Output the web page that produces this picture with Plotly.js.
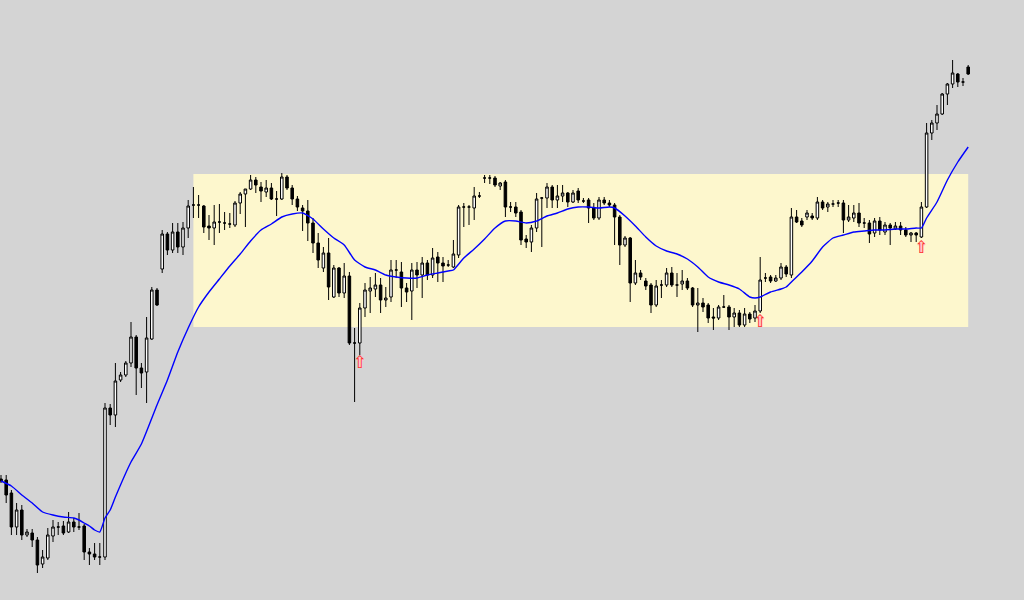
<!DOCTYPE html>
<html>
<head>
<meta charset="utf-8">
<script src="https://cdn.plot.ly/plotly-3.0.1.min.js"></script>
<style>html,body{margin:0;padding:0;background:#d4d4d4;}#chart{width:1024px;height:600px;}</style>
</head>
<body>
<div id="chart"></div>
<script>
// OHLC values (one candle per period)
const open = [121,120,107,73,90,65,67,60,36,42,64,73,74,68,78,73,74,48,46,43,
43,192,185,220,225,237,263,232,228,261,310,331,366,350,368,353,372,395,395,394,
374,372,378,377,376,375,397,406,411,420,413,408,412,401,401,423,412,401,392,389,
377,357,332,347,303,332,307,324,257,257,292,309,311,315,300,303,330,328,312,309,
330,325,337,325,343,337,335,333,345,393,393,392,404,422,422,422,414,418,393,393,
388,361,358,372,402,402,413,400,404,407,398,409,399,400,392,382,400,397,395,383,
355,362,317,327,319,315,295,315,315,327,315,316,319,312,295,297,295,283,282,293,
293,283,287,275,286,282,289,322,323,319,322,333,325,383,379,383,384,382,398,393,
396,397,397,380,382,387,377,377,367,379,368,375,371,374,370,365,367,363,393,467,
477,486,506,516,526,518,533];
const high = [125,125,110,97,95,71,71,63,50,72,80,78,79,88,82,87,76,52,57,57,
197,196,237,228,239,278,265,237,283,313,312,370,368,377,377,378,400,413,405,395,
385,395,396,388,387,399,408,411,425,423,418,420,417,409,427,425,415,404,395,400,
382,367,353,362,335,333,337,328,272,297,317,323,327,322,313,340,340,338,317,337,
338,343,340,352,348,343,340,360,395,397,395,413,408,425,425,424,418,420,398,398,
390,365,375,407,403,417,415,415,415,408,410,412,402,402,397,403,403,400,397,385,
364,363,340,330,322,317,320,320,332,333,327,330,322,313,312,302,297,292,295,305,
295,292,290,292,288,295,343,327,325,325,337,335,392,390,382,390,387,403,400,398,
400,400,400,395,395,397,382,380,382,383,378,377,378,378,373,368,368,398,477,480,
495,507,517,540,527,522,535];
const low = [117,97,65,65,60,63,53,27,32,40,58,65,65,67,68,70,40,35,40,35,
40,175,173,218,223,233,205,212,197,260,294,327,345,347,347,345,362,382,382,367,
360,355,367,370,372,373,386,373,410,407,398,403,400,384,400,410,395,389,369,359,
347,332,328,300,302,303,302,255,198,245,283,287,303,287,293,298,322,293,298,280,
312,302,320,322,318,318,333,332,342,373,375,380,402,417,416,413,410,383,388,383,
355,352,348,368,353,392,392,392,398,393,397,397,397,377,380,380,395,393,355,335,
353,298,315,320,310,287,293,302,313,313,303,310,310,293,268,288,277,270,280,292,
270,273,273,273,277,278,287,318,317,318,320,323,322,377,373,380,380,380,390,388,
393,393,367,378,378,373,372,357,363,365,365,355,370,365,363,358,358,362,392,460,
470,485,495,512,513,514,525];
const close = [119,105,73,90,65,68,60,35,43,65,73,73,67,78,73,73,48,46,43,43,
192,185,219,225,237,263,232,227,262,310,295,366,350,368,353,372,394,395,395,373,
372,378,378,377,376,397,406,411,420,415,409,412,401,401,423,412,401,393,389,377,
357,340,347,313,332,307,324,257,257,292,310,312,315,300,302,330,330,312,308,330,
325,337,325,342,337,334,335,346,393,393,393,404,404,422,422,415,417,393,393,387,
360,358,372,401,402,413,400,404,407,398,407,400,399,392,382,400,397,395,383,355,
362,317,327,323,314,295,314,315,327,315,315,319,312,295,297,293,282,282,293,293,
283,287,275,286,281,289,320,322,319,322,333,326,383,378,375,387,382,398,392,396,
396,397,380,383,387,377,377,366,379,370,375,372,374,370,365,367,365,393,467,477,
486,506,516,527,518,518,526];

// Moving average (blue line) read at sampled candles
const maIndex = [0,2,4,6,8,10,12,14,15,16,17,18,19,20,21,22,25,27,30,32,34,36,38,40,42,44,46,48,50,52,54,56,58,60,62,64,66,68,70,72,74,76,78,80,82,84,86,87,89,91,93,95,97,99,101,103,105,107,109,111,113,115,117,118,120,122,124,126,128,130,132,134,136,138,140,142,144,145,146,148,150,151,152,154,156,158,160,162,164,166,168,170,172,174,176,177,178,180,182,184,186];
const maValue = [119,114,105,97,88,85,83,82,80,77,74,70,68,82,90,103,138,156,195,220,248,272,293,308,321,334,346,359,370,376,383,386,387,381,371,362,355,340,333,330,325,323,322,322,325,327,329,330,342,351,361,372,379,379,377,379,384,387,391,393,393,392,393,392,384,374,363,354,349,346,341,333,323,318,315,311,303,302,303,308,311,313,318,328,339,353,362,365,368,369,370,370,371,371,372,372,382,398,420,438,453];

// Signal arrows (candle index, level)
const arrowIndex = [69,146,177];
const arrowLevel = [236,277,351];

// Highlighted range box
const zoneStart = 37, zoneEnd = 186, zoneLow = 273, zoneHigh = 426;

const idx = open.map((_, i) => i);

const traces = [
  {
    type: 'candlestick', x: idx, open: open, high: high, low: low, close: close,
    increasing: {line: {color: '#000000', width: 1}, fillcolor: '#ffffff'},
    decreasing: {line: {color: '#000000', width: 1}, fillcolor: '#000000'},
    whiskerwidth: 0, showlegend: false, hoverinfo: 'skip'
  },
  {
    type: 'scatter', mode: 'lines', x: maIndex, y: maValue,
    line: {color: '#0000ff', width: 1.4, shape: 'spline', smoothing: 0.5},
    showlegend: false, hoverinfo: 'skip'
  },
  {
    type: 'scatter', mode: 'text', x: arrowIndex, y: arrowLevel,
    text: arrowIndex.map(() => '⬆'), textposition: 'middle center',
    textfont: {family: 'DejaVu Sans', size: 15, color: '#ffc8c8'},
    showlegend: false, hoverinfo: 'skip'
  },
  {
    type: 'scatter', mode: 'text', x: arrowIndex, y: arrowLevel,
    text: arrowIndex.map(() => '⇧'), textposition: 'middle center',
    textfont: {family: 'DejaVu Sans', size: 17, color: '#ff3030'},
    showlegend: false, hoverinfo: 'skip'
  }
];

const layout = {
  width: 1024, height: 600,
  margin: {l: 0, r: 0, t: 0, b: 0, pad: 0},
  paper_bgcolor: '#d4d4d4', plot_bgcolor: '#d4d4d4',
  xaxis: {range: [-1/5.2, 1023/5.2], visible: false, rangeslider: {visible: false}, fixedrange: true},
  yaxis: {range: [0, 600], visible: false, fixedrange: true},
  shapes: [{
    type: 'rect', layer: 'below', xref: 'x', yref: 'y',
    x0: zoneStart, x1: zoneEnd, y0: zoneLow, y1: zoneHigh,
    fillcolor: '#fdf7cd', line: {width: 0}
  }],
  hovermode: false, showlegend: false
};

Plotly.newPlot('chart', traces, layout, {staticPlot: true, displayModeBar: false});
</script>
</body>
</html>
